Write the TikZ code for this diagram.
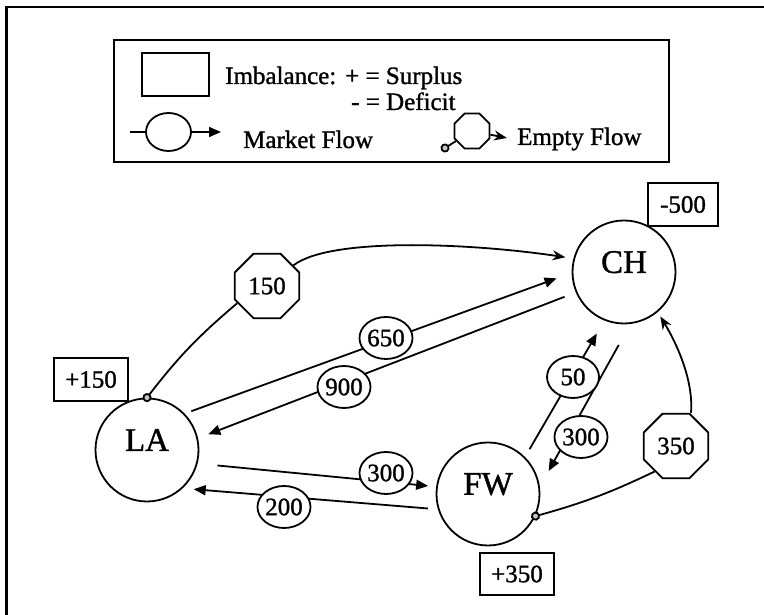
\documentclass[tikz,border=0pt]{standalone}
\usepackage{fontspec}
\setmainfont[FakeBold=1.2]{Liberation Serif}
\usetikzlibrary{positioning,arrows.meta,shapes.geometric}

\begin{document}
\begin{tikzpicture}[
  x=1pt,y=1pt,
  every node/.style={font=\fontsize{25}{28}\selectfont},
  city/.style={circle,draw,line width=1.8pt,minimum size=103pt,inner sep=0pt,text depth=20pt,font=\fontsize{33}{36}\selectfont},
  imbal/.style={rectangle,draw,line width=1.8pt,minimum width=74pt,minimum height=43pt,inner sep=0pt},
  mlab/.style={ellipse,draw,fill=white,line width=1.8pt,minimum width=52pt,minimum height=42pt,inner sep=0pt},
  elab/.style={regular polygon,regular polygon sides=8,draw,fill=white,line width=1.8pt,minimum size=70pt,inner sep=0pt},
  mflow/.style={-{Triangle[length=12pt,width=10pt]},line width=1.8pt},
  estart/.style={{Circle[length=9pt,fill=gray!45]}-,line width=1.8pt,shorten <=-4.5pt},
  eend/.style={-{Stealth[length=13pt,width=10pt]},line width=1.8pt},
  legtext/.style={anchor=base west,inner sep=0pt}
]
  \useasboundingbox (0,0) rectangle (764,615);
  \draw[line width=2.2pt] (764,608) -- (6.5,608) -- (6.5,0);

  % legend
  \draw[line width=1.8pt] (114,453) rectangle (669,575);
  \node[imbal,minimum width=67pt] (legI) at (175.5,540.5) {};
  \node[legtext] (legIt) at (225,531) {Imbalance:};
  \node[legtext] (legPlus) at (345,531) {+ = Surplus};
  \node[legtext] (legMinus) at (351,505) {- = Deficit};
  \coordinate (legMa) at (130,483);
  \coordinate (legMb) at (221,483);
  \node[mlab,minimum width=45pt,minimum height=38pt] (legM) at (168.5,483) {};
  \draw[line width=1.8pt] (legMa) -- (legM);
  \draw[mflow] (legM) -- (legMb);
  \node[legtext] (legMt) at (243,467) {Market Flow};
  \coordinate (legEa) at (445,467);
  \coordinate (legEb) at (507,477);
  \node[elab,minimum size=38pt] (legE) at (472,484) {};
  \draw[estart] (legEa) -- (legE);
  \draw[eend] (legE) -- (legEb);
  \node[legtext] (legEt) at (517,470) {Empty Flow};

  % network
  \node[city] (LA) at (147,165) {LA};
  \node[city] (CH) at (624,343) {CH};
  \node[city] (FW) at (488,121) {FW};
  \node[imbal] (iLA) at (91,235.5) {+150};
  \node[imbal,minimum width=70pt] (iCH) at (683,410.5) {-500};
  \node[imbal,minimum height=42pt] (iFW) at (517,41) {+350};

  \draw[mflow,shorten <=7pt,shorten >=16pt] (LA.44) -- (CH.181);
  \draw[mflow,shorten <=12pt,shorten >=11pt] (CH.203) -- (LA.13);
  \draw[mflow,shorten <=20pt,shorten >=8pt] (LA.-15) -- (FW.172);
  \draw[mflow,shorten <=10pt,shorten >=11pt] (FW.197) -- (LA.-47);
  \draw[mflow,shorten <=9pt,shorten >=15pt] (FW.45) -- (CH.248);
  \draw[mflow,shorten <=24pt,shorten >=18pt] (CH.277) -- (FW.8);

  \foreach \n/\x/\y/\t in {f650/386/277/650, f900/344/228/900, fLF/386/142/300,
                           fFL/284/108/200, fFC/573/238/50, fCF/581/178/300}
    \node[mlab] (\n) at (\x,\y) {\t};

  \node[elab] (o150) at (267,329) {150};
  \node[elab] (o350) at (676,169) {350};

  \draw[estart] (LA.90) to[bend left=6] (o150.210);
  \draw[eend,shorten >=8pt] (o150.38) .. controls (330,378) and (470,372) .. (CH.165);
  \draw[estart] (FW.-25) to[bend right=5] (o350.230);
  \draw[eend,shorten >=5pt] ([xshift=15pt]o350.north) .. controls (694,240) and (671,281) .. (CH.-50);
\end{tikzpicture}
\end{document}
